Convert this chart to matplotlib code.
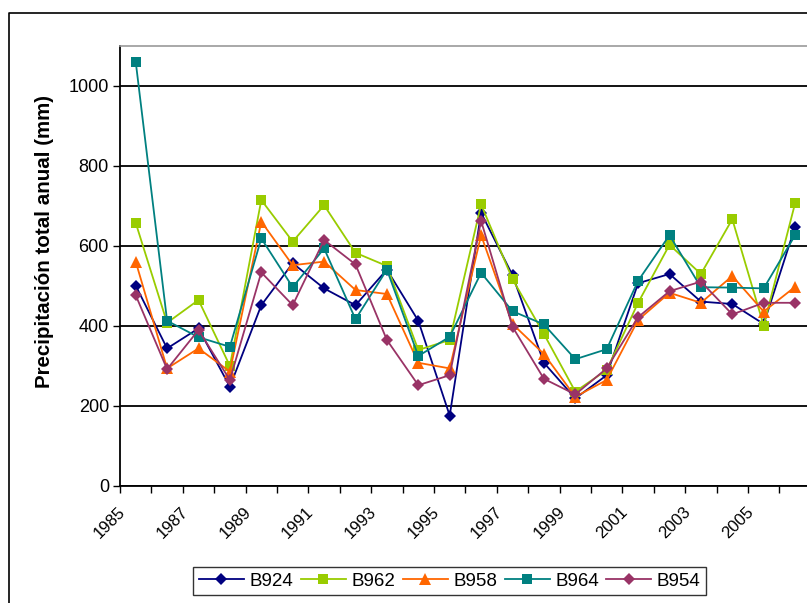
import matplotlib
matplotlib.use("Agg")
import matplotlib.pyplot as plt
import numpy as np
from matplotlib.transforms import ScaledTranslation
from matplotlib.lines import Line2D

plt.rcParams['font.family'] = ['Liberation Sans', 'DejaVu Sans']

years = list(range(1985, 2007))
b924 = [501, 344, 394, 248, 452, 557, 494, 452, 541, 413, 176, 683, 527, 308, 219, 277, 507, 530, 461, 455, 405, 648]
b962 = [658, 408, 465, 300, 715, 611, 702, 583, 550, 340, 365, 704, 517, 380, 236, 290, 458, 603, 530, 667, 401, 707]
b958 = [561, 294, 344, 286, 661, 552, 561, 490, 480, 308, 294, 627, 405, 330, 223, 265, 415, 483, 458, 525, 436, 498]
b964 = [1061, 413, 372, 348, 619, 497, 594, 417, 541, 325, 373, 533, 437, 404, 317, 342, 513, 627, 497, 496, 494, 627]
b954 = [477, 292, 390, 265, 534, 452, 615, 554, 365, 252, 277, 663, 398, 268, 229, 294, 422, 487, 511, 429, 458, 458]
series_names = ['B924', 'B962', 'B958', 'B964', 'B954']
series_vals = [b924, b962, b958, b964, b954]
colors = ['#000080', '#99CC00', '#FF6600', '#008080', '#993366']
markers = ['D', 's', '^', 's', 'D']
msizes = [6.5, 7.5, 8.5, 7.5, 6.5]
label_years = years[::2][:11]
ylabel = 'Precipitación total anual (mm)'

W, H = 807, 603
fig = plt.figure(figsize=(W / 100, H / 100), dpi=100)
n = len(years)
x0, x1 = 120, 120 + 22 * 31.4
ytop, ybot = 46, 486
ax = fig.add_axes([x0 / W, (H - ybot) / H, (x1 - x0) / W, (ybot - ytop) / H])

x = np.arange(n)
for name, vals, c, m, ms in zip(series_names, series_vals, colors, markers, msizes):
    ax.plot(x, vals, color=c, marker=m, markersize=ms, linewidth=1.3,
            markeredgewidth=0, label=name, zorder=3)

ax.set_xlim(-0.5, n - 0.5)
ax.set_ylim(0, 1100)
ax.set_yticks([0, 200, 400, 600, 800, 1000])
ax.yaxis.grid(True, color='black', linewidth=1.3)
ax.set_axisbelow(True)
ax.tick_params(axis='y', direction='out', length=5, width=1, labelsize=13, pad=3)

ax.set_xticks(np.arange(0, 21, 2))
ax.set_xticklabels([str(y) for y in label_years], rotation=45, ha='right', va='top',
                   rotation_mode='anchor', fontsize=12)
ax.tick_params(axis='x', which='major', length=0, pad=13)
ax.set_xticks(np.arange(-0.5, n, 1), minor=True)
ax.tick_params(axis='x', which='minor', direction='out', length=5, width=1)
for lab in ax.get_xticklabels():
    lab.set_transform(lab.get_transform() + ScaledTranslation(-0.18, 0, fig.dpi_scale_trans))

for s in ['left', 'bottom']:
    ax.spines[s].set_color('black')
    ax.spines[s].set_linewidth(1.3)
ax.spines['top'].set_color('#999999')
ax.spines['top'].set_linewidth(1.2)
ax.spines['right'].set_visible(False)

fig.text(45 / W, 1 - 242 / H, ylabel, rotation=90, ha='center', va='center',
         fontsize=14.8, fontweight='bold')

leg = fig.legend(loc='upper left', bbox_to_anchor=(193 / W, 1 - 567 / H), ncol=5,
                 frameon=True, fontsize=13.5, handlelength=2.4, columnspacing=0.4,
                 handletextpad=0.3, borderpad=0.3, fancybox=False,
                 borderaxespad=0)
leg.get_frame().set_edgecolor('black')
leg.get_frame().set_linewidth(1.0)

fig.add_artist(Line2D([9 / W, 9 / W, 1.0], [0.0, 1 - 13 / H, 1 - 13 / H],
                      transform=fig.transFigure, color='black', linewidth=1.2))

fig.savefig('out.png', dpi=100)
